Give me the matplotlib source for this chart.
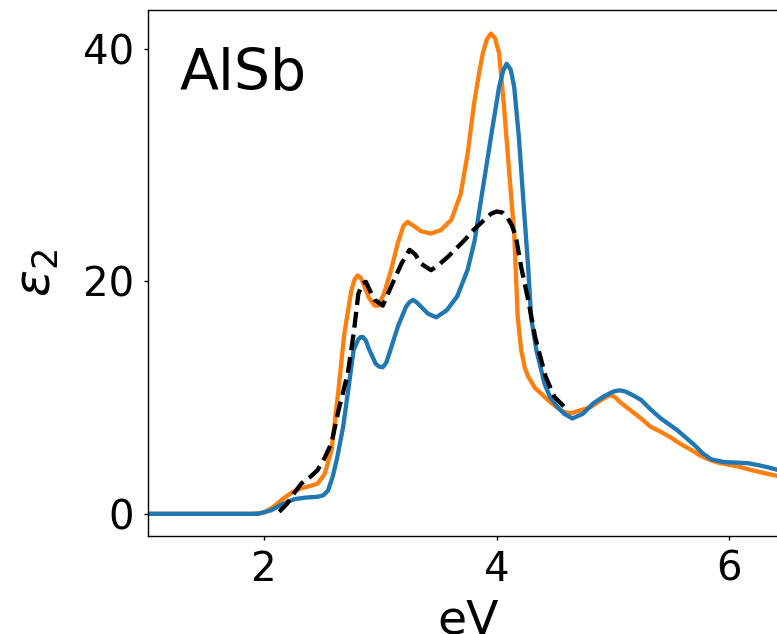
"""epsilon_2 spectrum of AlSb: two calculations against experiment"""
import matplotlib
matplotlib.use('Agg')
import matplotlib.pyplot as plt

# Orange calculation (eV, eps2)
orange_x = [1.00, 1.50, 1.90, 2.00, 2.08, 2.17, 2.25, 2.32, 2.40, 2.46, 2.52, 2.58,
            2.63, 2.69, 2.75, 2.78, 2.805, 2.83, 2.85, 2.90, 2.95, 2.98, 3.03, 3.09,
            3.15, 3.20, 3.235, 3.28, 3.35, 3.435, 3.52, 3.61, 3.69, 3.75, 3.805, 3.85,
            3.88, 3.915, 3.95, 3.985, 4.02, 4.06, 4.105, 4.15, 4.18, 4.21, 4.24, 4.27,
            4.33, 4.38, 4.46, 4.55, 4.60, 4.64, 4.72, 4.81, 4.90, 4.95, 4.98, 5.02,
            5.06, 5.15, 5.24, 5.32, 5.40, 5.49, 5.58, 5.67, 5.75, 5.84, 5.92, 6.01,
            6.10, 6.19, 6.30, 6.42, 6.50]
orange_y = [0.0, 0.0, 0.0, 0.1, 0.6, 1.35, 1.9, 2.2, 2.4, 2.6, 3.4, 5.5,
            9.8, 15.5, 19.2, 20.2, 20.5, 20.3, 19.9, 18.6, 17.9, 17.9, 18.9, 20.9,
            23.3, 24.8, 25.1, 24.8, 24.3, 24.1, 24.4, 25.3, 27.5, 31.0, 35.3, 38.0,
            39.6, 40.8, 41.3, 40.9, 39.6, 35.3, 29.6, 24.1, 16.9, 14.1, 12.6, 11.8,
            10.8, 10.35, 9.6, 8.9, 8.7, 8.65, 8.9, 9.2, 9.8, 10.1, 10.2, 10.0,
            9.6, 8.9, 8.2, 7.5, 7.1, 6.6, 6.0, 5.5, 5.0, 4.6, 4.35, 4.2,
            4.0, 3.76, 3.5, 3.24, 3.05]

# Blue calculation (eV, eps2)
blue_x = [1.00, 1.50, 1.95, 2.06, 2.15, 2.26, 2.36, 2.46, 2.51, 2.55, 2.59, 2.63,
          2.68, 2.72, 2.77, 2.81, 2.83, 2.85, 2.875, 2.90, 2.96, 2.99, 3.02, 3.05,
          3.08, 3.15, 3.22, 3.25, 3.28, 3.31, 3.34, 3.41, 3.48, 3.57, 3.66, 3.75,
          3.81, 3.86, 3.95, 4.02, 4.055, 4.085, 4.12, 4.15, 4.19, 4.23, 4.27, 4.295,
          4.34, 4.41, 4.46, 4.52, 4.58, 4.65, 4.74, 4.83, 4.92, 5.00, 5.04, 5.07,
          5.11, 5.15, 5.24, 5.32, 5.41, 5.48, 5.55, 5.62, 5.70, 5.77, 5.84, 5.95,
          6.07, 6.16, 6.24, 6.33, 6.42, 6.50]
blue_y = [0.0, 0.0, 0.0, 0.3, 0.8, 1.26, 1.4, 1.46, 1.6, 2.0, 3.2, 4.9,
          7.5, 10.4, 14.1, 15.0, 15.2, 15.2, 14.9, 14.2, 12.9, 12.65, 12.6, 13.0,
          13.9, 16.1, 17.8, 18.2, 18.4, 18.2, 17.9, 17.2, 16.9, 17.5, 18.7, 21.0,
          23.5, 26.7, 32.4, 36.7, 38.1, 38.7, 38.2, 36.7, 32.4, 26.7, 21.2, 16.9,
          14.1, 11.2, 10.0, 9.2, 8.6, 8.2, 8.6, 9.5, 10.1, 10.5, 10.6, 10.6,
          10.5, 10.3, 9.8, 9.0, 8.2, 7.7, 7.2, 6.6, 5.9, 5.2, 4.7, 4.45,
          4.4, 4.35, 4.2, 4.0, 3.76, 3.6]

# Experiment (black dashed)
exp_x = [2.13, 2.20, 2.26, 2.32, 2.40, 2.46, 2.52, 2.58, 2.64, 2.72, 2.77, 2.81,
         2.845, 2.875, 2.91, 2.95, 3.02, 3.09, 3.18, 3.25, 3.30, 3.35, 3.435, 3.50,
         3.58, 3.65, 3.72, 3.80, 3.89, 3.95, 4.00, 4.05, 4.09, 4.13, 4.165, 4.21,
         4.27, 4.33, 4.38, 4.42, 4.495, 4.58, 4.62]
exp_y = [0.17, 0.9, 1.8, 2.6, 3.2, 3.76, 4.8, 6.1, 8.9, 12.1, 15.5, 18.9,
         19.8, 19.95, 19.2, 18.4, 17.9, 19.5, 21.5, 22.7, 22.3, 21.5, 20.95, 21.4,
         22.1, 22.8, 23.5, 24.4, 25.25, 25.8, 26.0, 25.9, 25.5, 24.8, 23.8, 21.2,
         18.4, 15.2, 13.3, 11.8, 10.06, 9.2, 8.9]

x_ticks = [2, 4, 6]
y_ticks = [0, 20, 40]

fig = plt.figure(figsize=(7.77, 6.34), dpi=100)
# axes run slightly past the right edge of the picture, as in the reference
ax = fig.add_axes([0.1901, 0.1538, 0.8236, 0.8300])

ax.plot(orange_x, orange_y, color='#ff7f0e', lw=3.1)
ax.plot(blue_x, blue_y, color='#1f77b4', lw=3.1)
ax.plot(exp_x, exp_y, color='black', lw=3.1, ls='--')

ax.set_xlim(1, 6.5)
ax.set_ylim(-1.95, 43.3)
ax.set_xticks(x_ticks)
ax.set_yticks(y_ticks)
ax.tick_params(labelsize=29, length=3.2, width=1.0, pad=6.5)
for sp in ax.spines.values():
    sp.set_linewidth(1.0)

ax.set_xlabel('eV', fontsize=34, labelpad=6)
ax.set_ylabel(r'$\varepsilon_2$', fontsize=36, labelpad=16)
ax.text(0.05, 0.8485, 'AlSb', transform=ax.transAxes, fontsize=41,
        ha='left', va='baseline')

fig.savefig('out.png', dpi=100)
